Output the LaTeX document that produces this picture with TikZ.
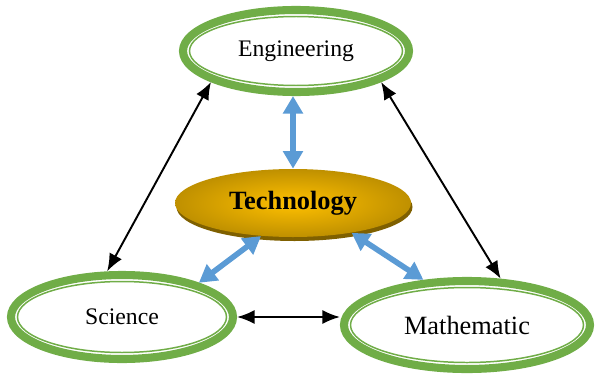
\documentclass[tikz,border=0pt]{standalone}
\usepackage{fontspec}
\setmainfont{Liberation Serif}
\usetikzlibrary{arrows.meta,shapes,positioning,calc,shadows}
\definecolor{ringgreen}{HTML}{70AD47}
\definecolor{linkblue}{HTML}{5B9BD5}
\definecolor{goldin}{HTML}{FFC000}
\definecolor{goldout}{HTML}{BF9000}
\definecolor{goldshade}{HTML}{7F6000}
\tikzset{
  ring/.style 2 args = {ellipse, draw=ringgreen, line width=4.6pt, fill=white,
    minimum width=#1, minimum height=#2, inner sep=0pt,
    path picture={\draw[ringgreen, line width=0.85pt] (path picture bounding box.center)
      ellipse [x radius=#1/2-0.13cm, y radius=#2/2-0.13cm];}},
  core/.style  = {ellipse, minimum width=4.72cm, minimum height=1.36cm, inner sep=0pt,
    inner color=goldin, outer color=goldout,
    drop shadow={shadow xshift=0.03cm, shadow yshift=-0.08cm, fill=goldshade, opacity=1},
    font=\fontsize{15}{18}\selectfont\bfseries},
  blackline/.style = {{Latex[length=10pt,width=8pt]}-{Latex[length=10pt,width=8pt]}, line width=1.1pt},
  blueline/.style  = {{Triangle[length=10pt,width=11pt]}-{Triangle[length=10pt,width=11pt]},
    line width=3.2pt, color=linkblue}
}

\begin{document}
\begin{tikzpicture}
  \useasboundingbox (0,0) rectangle (11.9,7.5);

% the three outer rings
  \node[ring={4.52cm}{1.64cm}, font=\fontsize{13.5}{16}\selectfont] (eng) at (5.92,6.48) {Engineering};
  \node[ring={4.44cm}{1.68cm}, font=\fontsize{13.5}{16}\selectfont] (sci) at (2.44,1.16) {Science};
  \node[ring={4.92cm}{1.76cm}, font=\fontsize{15}{18}\selectfont] (math) at (9.34,1.00) {Mathematic};

% the centre
  \node[core] (tech) at (5.86,3.44) {Technology};

% black links between the rings
  \draw[blackline] (eng.200) -- (sci.108);
  \draw[blackline] (eng.340) -- (math.54);
  \draw[blackline] (sci.east) -- (sci.east -| math.west);

% blue links to the centre
  \draw[blueline] (tech.north |- eng.south) -- (tech.north);
  \draw[blueline] (tech.226) -- (sci.24);
  \draw[blueline] (tech.333) -- (math.134);
\end{tikzpicture}
\end{document}
